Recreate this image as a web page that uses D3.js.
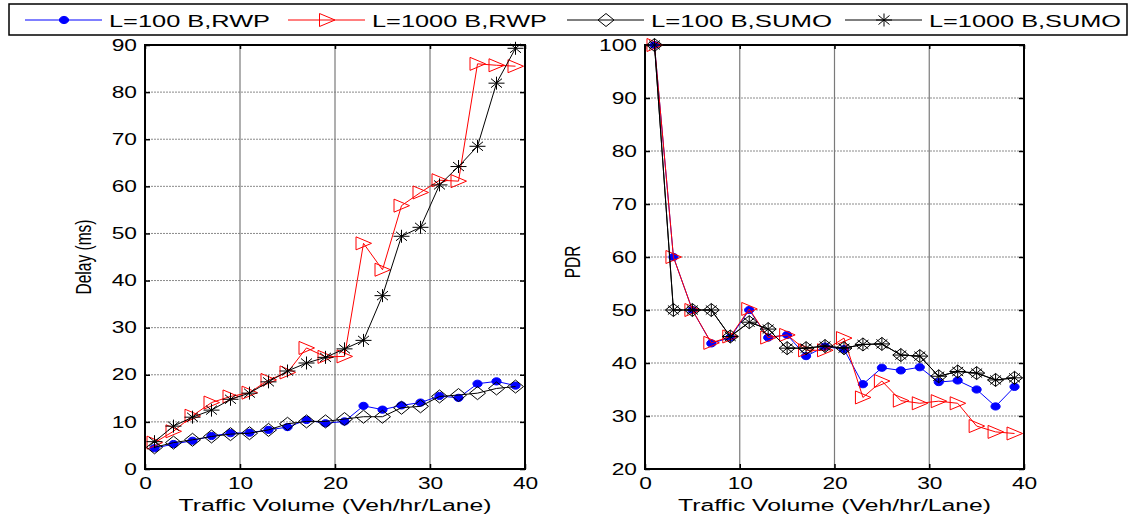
<!DOCTYPE html>
<html>
<head>
<meta charset="utf-8">
<script src="https://cdn.jsdelivr.net/npm/d3@7"></script>
<style>
  body { margin: 0; background: #fff; }
  svg { display: block; font-family: "Liberation Sans", Arial, sans-serif; }
</style>
</head>
<body>
<svg id="chart" width="1133" height="517"></svg>
<script>
// traffic volume (veh/hr/lane) at each sample
const volume = [1, 3, 5, 7, 9, 11, 13, 15, 17, 19, 21, 23, 25, 27, 29, 31, 33, 35, 37, 39];

// delay (ms)
const delayRwp100 = [4.4, 5.3, 6.0, 7.0, 7.6, 7.7, 8.3, 8.9, 10.4, 9.7, 10.1, 13.4, 12.6, 13.5, 14.1, 15.5, 15.1, 18.1, 18.6, 17.7];
const delayRwp1000 = [5.6, 8.0, 11.3, 14.1, 15.4, 16.2, 18.9, 20.5, 25.7, 23.8, 23.9, 47.9, 42.3, 55.9, 58.7, 61.3, 61.1, 86.0, 85.7, 85.5];
const delaySumo100 = [4.6, 5.6, 6.2, 6.9, 7.4, 7.6, 8.3, 9.6, 10.1, 10.1, 10.6, 11.1, 11.1, 13.0, 13.3, 15.4, 15.7, 16.1, 17.1, 17.5];
const delaySumo1000 = [5.8, 9.1, 11.0, 12.5, 14.8, 16.1, 18.5, 20.8, 22.5, 23.7, 25.5, 27.3, 36.8, 49.4, 51.3, 60.3, 64.2, 68.5, 81.9, 89.3];

// packet delivery ratio
const pdrRwp100 = [100, 60, 50, 43.7, 44.8, 50, 44.8, 45.3, 41.3, 43.1, 42.6, 36.0, 39.1, 38.6, 39.2, 36.4, 36.7, 35.0, 31.8, 35.5];
const pdrRwp1000 = [100, 60, 50, 43.8, 45.0, 50.2, 44.8, 45.3, 42.4, 42.4, 44.7, 33.5, 36.6, 32.9, 32.4, 32.8, 32.4, 28.1, 27.0, 26.7];
const pdrSumo100 = [100, 50, 50, 50, 45.0, 47.7, 46.4, 42.8, 42.8, 43.2, 42.8, 43.5, 43.6, 41.5, 41.3, 37.5, 38.4, 38.1, 36.8, 37.2];
const pdrSumo1000 = [100, 50, 50, 50, 45.0, 47.7, 46.4, 42.8, 42.8, 43.2, 42.8, 43.5, 43.6, 41.5, 41.3, 37.5, 38.4, 38.1, 36.8, 37.2];

const seriesNames = ["L=100 B,RWP", "L=1000 B,RWP", "L=100 B,SUMO", "L=1000 B,SUMO"];

const xTicks = [0, 10, 20, 30, 40];
const delayTicks = [0, 10, 20, 30, 40, 50, 60, 70, 80, 90];
const pdrTicks = [20, 30, 40, 50, 60, 70, 80, 90, 100];

// the original figure is stretched sideways, so text gets widened too
const STRETCH = 1.42;

const styles = [
  { color: "#0000ff", marker: "dot" },
  { color: "#ff0000", marker: "tri" },
  { color: "#000000", marker: "diamond" },
  { color: "#000000", marker: "star" }
];

const svg = d3.select("#chart");

const widen = (sel, factor) => {
  sel.each(function () {
    const len = this.getComputedTextLength();
    d3.select(this).attr("textLength", len * factor).attr("lengthAdjust", "spacingAndGlyphs");
  });
};

const drawMarker = (g, type, color) => {
  if (type === "dot") {
    g.append("ellipse").attr("rx", 4.6).attr("ry", 3.6).attr("fill", color).attr("stroke", color);
  } else if (type === "tri") {
    g.append("path").attr("d", "M-7.5,-6.5L8,0L-7.5,6.5Z").attr("fill", "none").attr("stroke", color).attr("stroke-width", 1);
  } else if (type === "diamond") {
    g.append("path").attr("d", "M-8,0L0,-6.5L8,0L0,6.5Z").attr("fill", "none").attr("stroke", color).attr("stroke-width", 1);
  } else {
    g.append("path")
      .attr("d", "M-8,0H8M0,-6.5V6.5M-5.5,-4.5L5.5,4.5M-5.5,4.5L5.5,-4.5")
      .attr("fill", "none").attr("stroke", color).attr("stroke-width", 1);
  }
};

const drawPanel = (opts) => {
  const { x0, x1, y0, y1, yDomain, yTicks, series, yLabel, yLabelPos } = opts;
  const x = d3.scaleLinear().domain([0, 40]).range([x0, x1]);
  const y = d3.scaleLinear().domain(yDomain).range([y1, y0]);
  const g = svg.append("g");

  // grid
  g.append("g").selectAll("line")
    .data(yTicks.slice(1, -1))
    .join("line")
    .attr("x1", x0).attr("x2", x1)
    .attr("y1", d => y(d)).attr("y2", d => y(d))
    .attr("stroke", "#8a8a8a").attr("stroke-dasharray", "2,1").attr("stroke-width", 1);
  g.append("g").selectAll("line")
    .data(xTicks.slice(1, -1))
    .join("line")
    .attr("x1", d => x(d)).attr("x2", d => x(d))
    .attr("y1", y0).attr("y2", y1)
    .attr("stroke", "#7a7a7a").attr("stroke-width", 1.2);

  // axes with inward ticks
  const left = g.append("g").attr("transform", `translate(${x0},0)`)
    .call(d3.axisLeft(y).tickValues(yTicks).tickSize(-5).tickPadding(8).tickSizeOuter(0));
  const bottom = g.append("g").attr("transform", `translate(0,${y1})`)
    .call(d3.axisBottom(x).tickValues(xTicks).tickSize(-5).tickPadding(9).tickSizeOuter(0));
  g.append("g").attr("transform", `translate(${x1},0)`)
    .call(d3.axisRight(y).tickValues(yTicks).tickSize(-5).tickFormat("").tickSizeOuter(0));
  g.append("g").attr("transform", `translate(0,${y0})`)
    .call(d3.axisTop(x).tickValues(xTicks).tickSize(-4).tickFormat("").tickSizeOuter(0));
  g.selectAll(".domain").remove();
  g.selectAll(".tick line").attr("stroke", "#000").attr("stroke-width", 1.5);
  [left, bottom].forEach(a => a.selectAll("text")
    .attr("font-size", 16).attr("fill", "#000").attr("font-family", "Liberation Sans, Arial, sans-serif"));
  left.selectAll("text").call(widen, STRETCH);
  bottom.selectAll("text").call(widen, STRETCH);

  g.append("rect")
    .attr("x", x0).attr("y", y0).attr("width", x1 - x0).attr("height", y1 - y0)
    .attr("fill", "none").attr("stroke", "#000").attr("stroke-width", 2);

  // series
  const line = d3.line().x((d, i) => x(volume[i])).y(d => y(d));
  series.forEach((vals, k) => {
    const st = styles[k];
    g.append("path")
      .datum(vals)
      .attr("d", line)
      .attr("fill", "none")
      .attr("stroke", st.color)
      .attr("stroke-width", 1);
    g.append("g").selectAll("g")
      .data(vals)
      .join("g")
      .attr("transform", (d, i) => `translate(${x(volume[i])},${y(d)})`)
      .each(function () { drawMarker(d3.select(this), st.marker, st.color); });
  });

  // axis titles
  g.append("text")
    .attr("x", (x0 + x1) / 2).attr("y", 511)
    .attr("text-anchor", "middle").attr("font-size", 16)
    .attr("textLength", 313).attr("lengthAdjust", "spacingAndGlyphs")
    .text("Traffic Volume (Veh/hr/Lane)");
  // rotated labels: glyphs are widened on the page, not lengthened
  g.append("text")
    .attr("transform", `translate(${yLabelPos[0]},${yLabelPos[1]}) rotate(-90) scale(1,${STRETCH})`)
    .attr("text-anchor", "middle").attr("font-size", 15.5)
    .text(yLabel);
};

drawPanel({
  x0: 145, x1: 525, y0: 45, y1: 469,
  yDomain: [0, 90], yTicks: delayTicks,
  series: [delayRwp100, delayRwp1000, delaySumo100, delaySumo1000],
  yLabel: "Delay (ms)", yLabelPos: [91, 257]
});

drawPanel({
  x0: 645, x1: 1024, y0: 45, y1: 469,
  yDomain: [20, 100], yTicks: pdrTicks,
  series: [pdrRwp100, pdrRwp1000, pdrSumo100, pdrSumo1000],
  yLabel: "PDR", yLabelPos: [580, 262]
});

// legend
const legend = svg.append("g");
legend.append("rect")
  .attr("x", 9).attr("y", 4).attr("width", 1118).attr("height", 31)
  .attr("fill", "#fff").attr("stroke", "#000").attr("stroke-width", 1.5);

const legendX = [25, 288, 567, 845];
const legendTextLen = [161, 175, 181, 192];
seriesNames.forEach((name, k) => {
  const st = styles[k];
  const item = legend.append("g").attr("transform", `translate(${legendX[k]},20)`);
  item.append("line").attr("x1", 0).attr("x2", 77).attr("stroke", st.color).attr("stroke-width", 1);
  drawMarker(item.append("g").attr("transform", "translate(39,0)"), st.marker, st.color);
  item.append("text")
    .attr("x", 84).attr("y", 6.5)
    .attr("font-size", 17)
    .attr("textLength", legendTextLen[k]).attr("lengthAdjust", "spacingAndGlyphs")
    .text(name);
});
</script>
</body>
</html>
